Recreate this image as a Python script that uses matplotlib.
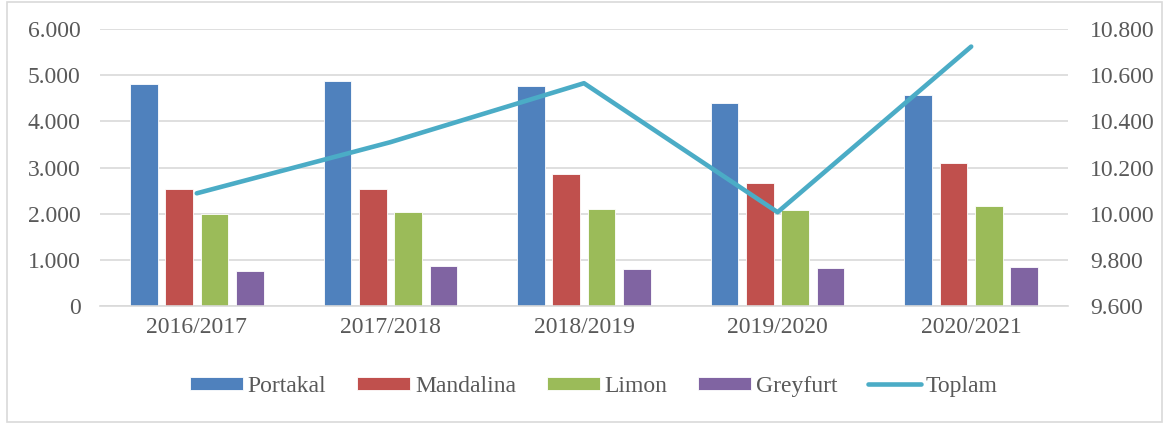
import matplotlib
matplotlib.use("Agg")
import matplotlib.pyplot as plt
import numpy as np
from matplotlib.patches import Rectangle
from matplotlib.ticker import FuncFormatter, MultipleLocator

plt.rcParams['font.family'] = ['Liberation Serif', 'DejaVu Serif']

# Data
seasons = ["2016/2017", "2017/2018", "2018/2019", "2019/2020", "2020/2021"]
portakal = [4807, 4880, 4777, 4394, 4575]
mandalina = [2527, 2527, 2860, 2670, 3090]
limon = [1990, 2030, 2106, 2078, 2158]
greyfurt = [747, 862, 800, 818, 847]
toplam = [10088, 10310, 10566, 10006, 10725]

series = [("Portakal", portakal, "#4F81BD"),
          ("Mandalina", mandalina, "#C0504D"),
          ("Limon", limon, "#9BBB59"),
          ("Greyfurt", greyfurt, "#8064A2")]
color_total = "#4BACC6"
text_grey = "#595959"
grid_grey = "#D9D9D9"
fs = 17

def thousands(v, pos):
    return f"{v:,.0f}".replace(",", ".")

fig = plt.figure(figsize=(11.69, 4.23), dpi=100)
ax = fig.add_axes([0.0855, 0.2773, 0.8281, 0.6534])
ax2 = ax.twinx()

x = np.arange(len(seasons))
width = 0.143
pitch = 0.1825
offsets = (np.arange(4) - 1.5) * pitch

for (name, vals, col), off in zip(series, offsets):
    ax.bar(x + off, vals, width, color=col, edgecolor="white", linewidth=0.6,
           label=name, zorder=2)

ax2.plot(x, toplam, color=color_total, linewidth=3.3, solid_capstyle="round",
         label="Toplam", zorder=3)

ax.set_xlim(-0.5, len(seasons) - 0.5)
ax.set_ylim(0, 6000)
ax.yaxis.set_major_locator(MultipleLocator(1000))
ax.yaxis.set_major_formatter(FuncFormatter(thousands))
ax2.set_ylim(9600, 10800)
ax2.yaxis.set_major_locator(MultipleLocator(200))
ax2.yaxis.set_major_formatter(FuncFormatter(thousands))

ax.set_xticks(x)
ax.set_xticklabels(seasons)
ax.grid(axis="y", color=grid_grey, linewidth=1.2, zorder=0)
ax.set_axisbelow(True)

for a in (ax, ax2):
    for s in a.spines.values():
        s.set_visible(False)
    a.tick_params(length=0, labelsize=fs, colors=text_grey)
ax.tick_params(axis="y", pad=14)
ax2.tick_params(axis="y", pad=16)
ax.tick_params(axis="x", pad=8)
ax.spines["bottom"].set_visible(True)
ax.spines["bottom"].set_color(grid_grey)
ax.spines["bottom"].set_linewidth(1.2)

h1, l1 = ax.get_legend_handles_labels()
h2, l2 = ax2.get_legend_handles_labels()
leg = fig.legend(h1 + h2, l1 + l2, loc="center", bbox_to_anchor=(0.508, 0.087),
                 ncol=5, frameon=False, fontsize=fs, handlelength=2.25,
                 handleheight=0.5, handletextpad=0.2, columnspacing=1.3)
for t in leg.get_texts():
    t.set_color(text_grey)

fig.patches.append(Rectangle((6.5 / 1169, 1.5 / 423), 1155 / 1169, 419 / 423,
                             transform=fig.transFigure, fill=False,
                             edgecolor=grid_grey, linewidth=1.2))

fig.savefig("out.png", dpi=100)
